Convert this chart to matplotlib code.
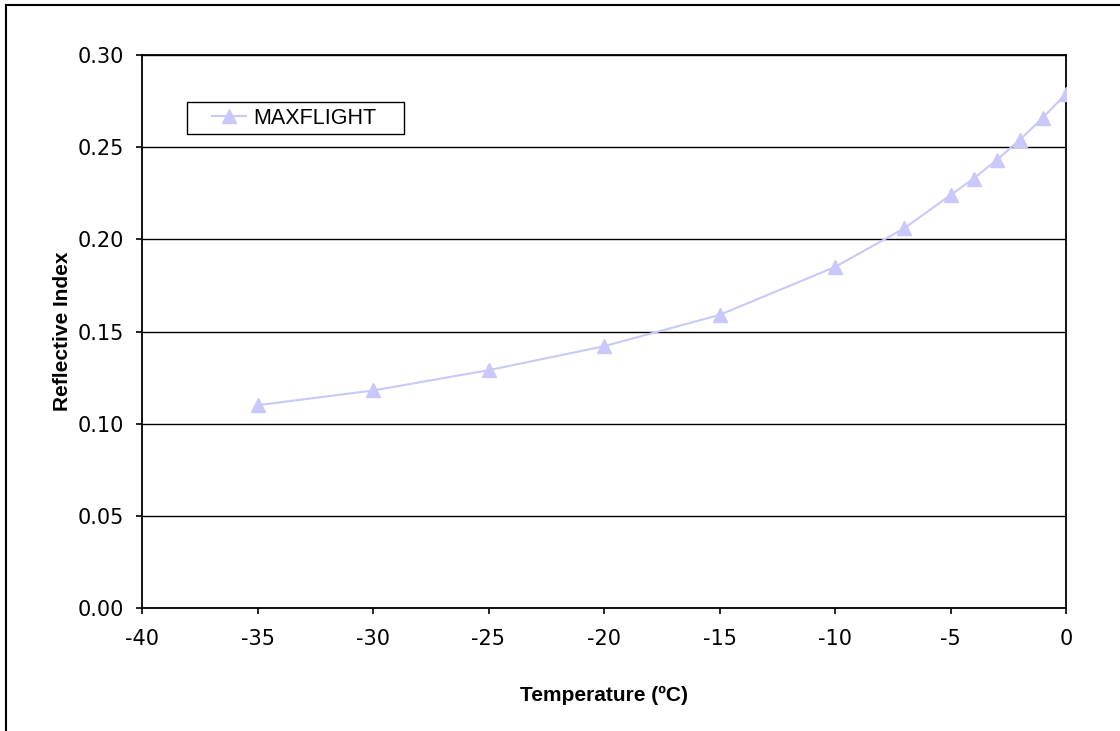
import matplotlib
matplotlib.use('Agg')
import matplotlib.pyplot as plt
from matplotlib.lines import Line2D
from matplotlib.patches import Rectangle
from matplotlib.ticker import FormatStrFormatter

# Data
temperature = [-35, -30, -25, -20, -15, -10, -7, -5, -4, -3, -2, -1, 0]
reflective_index = [0.110, 0.118, 0.129, 0.142, 0.159, 0.185, 0.206,
                    0.224, 0.233, 0.243, 0.254, 0.266, 0.279]
series_name = 'MAXFLIGHT'
x_ticks = [-40, -35, -30, -25, -20, -15, -10, -5, 0]
y_ticks = [0.00, 0.05, 0.10, 0.15, 0.20, 0.25, 0.30]

plt.rcParams['axes.unicode_minus'] = False

W, H = 1120, 731
fig = plt.figure(figsize=(W / 100, H / 100), dpi=100)

# axes placed in pixel terms of the reference
left, right, top, bottom = 142, 1066, 55, 608
ax = fig.add_axes([left / W, 1 - bottom / H, (right - left) / W, (bottom - top) / H])

line_color = '#C8C8FA'
ax.plot(temperature, reflective_index, color=line_color, lw=1.5,
        marker='^', markersize=10, markeredgecolor=line_color,
        markerfacecolor=line_color, label=series_name, zorder=3)

ax.set_xlim(-40, 0)
ax.set_ylim(0, 0.30)
ax.set_xticks(x_ticks)
ax.set_yticks(y_ticks)
ax.yaxis.set_major_formatter(FormatStrFormatter('%.2f'))
ax.grid(axis='y', color='black', lw=1.0)
ax.set_axisbelow(True)

for side in ['left', 'bottom', 'right', 'top']:
    ax.spines[side].set_color('black')
    ax.spines[side].set_linewidth(1.3)

ax.tick_params(axis='both', direction='out', length=4, width=1.2,
               labelsize=15, colors='black')
ax.tick_params(axis='y', pad=9)
ax.tick_params(axis='x', pad=11)
for lab in ax.get_xticklabels() + ax.get_yticklabels():
    lab.set_family('DejaVu Sans')

ax.set_xlabel('Temperature (ºC)', fontsize=15, fontweight='bold',
              family='Liberation Sans', va='center')
ax.xaxis.set_label_coords(0.5, (bottom - 695) / (bottom - top))
ax.set_ylabel('Reflective Index', fontsize=15, fontweight='bold',
              family='Liberation Sans', va='center')
ax.yaxis.set_label_coords((63 - left) / (right - left), 0.5)

# legend with a plain square frame
pw, ph = right - left, bottom - top
leg = ax.legend(loc='center left',
                bbox_to_anchor=((212 - left) / pw, (bottom - 118) / ph),
                frameon=False, borderpad=0, borderaxespad=0,
                handlelength=1.6, handletextpad=0.3,
                prop={'family': 'Liberation Sans', 'size': 15.5})
ax.add_patch(Rectangle(((187 - left) / pw, (bottom - 134) / ph),
                       217 / pw, 32 / ph, transform=ax.transAxes,
                       fill=False, edgecolor='black', lw=1.0, zorder=4))

# outer chart border (top and left visible in the crop)
fig.add_artist(Line2D([6 / W, 6 / W], [0, 1 - 5 / H], color='black', lw=1.5))
fig.add_artist(Line2D([6 / W, 1], [1 - 5 / H, 1 - 5 / H], color='black', lw=1.5))

fig.savefig('out.png', dpi=100)
